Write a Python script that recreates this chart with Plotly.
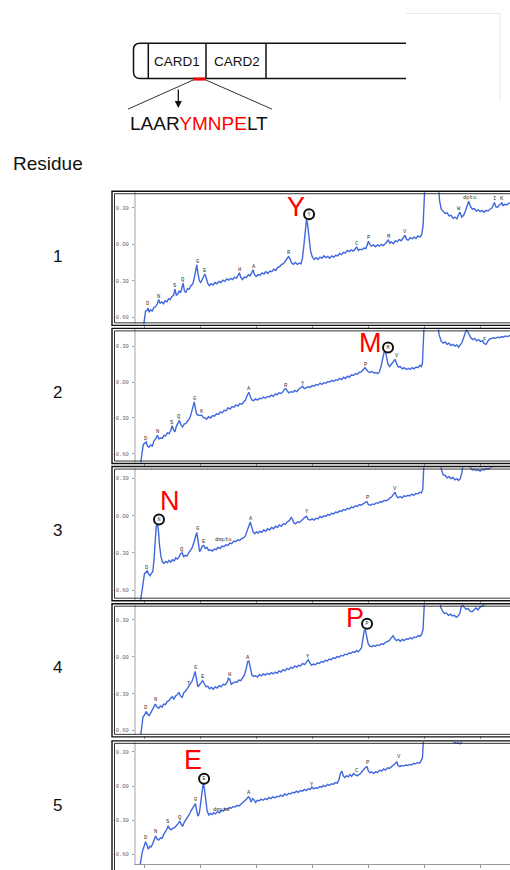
import plotly.graph_objects as go

W, H = 510, 870          # reference canvas (pixel coordinates used for placement)
FIG_H = 877              # page height; the capture compresses it to 870

# ------------------------------------------------------------------ data
residue_numbers = ["1", "2", "3", "4", "5"]
called_residues = ["Y", "M", "N", "P", "E"]
domain_names = ["CARD1", "CARD2"]
peptide_left, peptide_red, peptide_right = "LAAR", "YMNPE", "LT"
x_tick_vals = [4, 6, 8, 10, 12, 14, 16]
y_tick_vals = [-0.6, -0.3, 0.0, 0.3]
y_tick_text = ["-0.60", "-0.30", "0.00", "0.30"]

# chromatograms: (retention time [min], absorbance)
run1 = [(3.88,-0.80),(3.96,-0.63),(4.02,-0.55),(4.07,-0.545),(4.11,-0.525),(4.15,-0.56),(4.20,-0.54),(4.26,-0.55),(4.32,-0.52),(4.38,-0.515),(4.44,-0.49),(4.49,-0.455),(4.54,-0.485),(4.60,-0.475),(4.66,-0.49),(4.72,-0.465),(4.78,-0.475),(4.84,-0.45),(4.90,-0.455),(4.96,-0.43),(5.02,-0.42),(5.07,-0.37),(5.12,-0.42),(5.17,-0.41),(5.22,-0.385),(5.27,-0.40),(5.32,-0.35),(5.36,-0.32),(5.41,-0.385),(5.46,-0.395),(5.52,-0.365),(5.58,-0.37),(5.64,-0.34),(5.70,-0.33),(5.75,-0.29),(5.80,-0.23),(5.85,-0.17),(5.89,-0.24),(5.94,-0.30),(5.99,-0.315),(6.04,-0.29),(6.09,-0.26),(6.14,-0.245),(6.19,-0.28),(6.24,-0.32),(6.30,-0.34),(6.36,-0.325),(6.43,-0.335),(6.50,-0.315),(6.57,-0.325),(6.64,-0.305),(6.71,-0.315),(6.78,-0.295),(6.85,-0.305),(6.92,-0.285),(6.99,-0.295),(7.06,-0.28),(7.13,-0.29),(7.20,-0.27),(7.27,-0.28),(7.32,-0.26),(7.37,-0.235),(7.42,-0.27),(7.48,-0.29),(7.55,-0.27),(7.62,-0.275),(7.69,-0.25),(7.75,-0.26),(7.81,-0.235),(7.86,-0.21),(7.91,-0.25),(7.97,-0.265),(8.04,-0.25),(8.11,-0.255),(8.18,-0.235),(8.25,-0.245),(8.32,-0.225),(8.39,-0.24),(8.46,-0.22),(8.53,-0.225),(8.60,-0.205),(8.67,-0.215),(8.74,-0.19),(8.81,-0.185),(8.88,-0.165),(8.95,-0.16),(9.02,-0.135),(9.08,-0.115),(9.13,-0.10),(9.18,-0.12),(9.24,-0.155),(9.30,-0.165),(9.37,-0.15),(9.44,-0.165),(9.51,-0.155),(9.57,-0.16),(9.62,-0.12),(9.67,-0.02),(9.72,0.12),(9.77,0.21),(9.81,0.16),(9.86,0.04),(9.91,-0.05),(9.97,-0.10),(10.04,-0.125),(10.11,-0.11),(10.18,-0.125),(10.25,-0.105),(10.32,-0.115),(10.39,-0.095),(10.46,-0.11),(10.53,-0.10),(10.60,-0.115),(10.67,-0.095),(10.74,-0.105),(10.81,-0.09),(10.88,-0.095),(10.95,-0.075),(11.02,-0.085),(11.09,-0.065),(11.16,-0.07),(11.23,-0.05),(11.30,-0.06),(11.37,-0.045),(11.44,-0.055),(11.50,-0.04),(11.56,-0.02),(11.62,-0.05),(11.68,-0.04),(11.75,-0.045),(11.82,-0.03),(11.89,-0.035),(11.94,-0.005),(11.98,0.025),(12.03,0.0),(12.09,-0.015),(12.16,-0.005),(12.23,-0.02),(12.30,-0.005),(12.37,-0.015),(12.44,0.0),(12.51,-0.01),(12.58,0.005),(12.64,0.02),(12.69,0.035),(12.74,0.01),(12.80,0.02),(12.87,0.005),(12.94,0.03),(13.01,0.02),(13.08,0.04),(13.15,0.03),(13.22,0.05),(13.29,0.075),(13.34,0.04),(13.40,0.035),(13.47,0.055),(13.54,0.045),(13.61,0.06),(13.68,0.05),(13.75,0.07),(13.82,0.06),(13.88,0.08),(13.93,0.15),(13.97,0.35),(14.02,0.60),(14.45,0.60),(14.52,0.36),(14.58,0.29),(14.65,0.27),(14.72,0.255),(14.79,0.26),(14.86,0.235),(14.93,0.24),(15.00,0.215),(15.07,0.225),(15.14,0.21),(15.20,0.245),(15.25,0.265),(15.31,0.225),(15.38,0.24),(15.45,0.28),(15.51,0.33),(15.56,0.355),(15.62,0.315),(15.69,0.29),(15.76,0.295),(15.83,0.275),(15.90,0.285),(15.97,0.27),(16.04,0.28),(16.11,0.265),(16.18,0.28),(16.25,0.275),(16.32,0.29),(16.39,0.30),(16.44,0.325),(16.48,0.345),(16.53,0.31),(16.59,0.305),(16.65,0.325),(16.70,0.33),(16.74,0.345),(16.79,0.32),(16.85,0.33),(16.92,0.325),(16.99,0.34),(17.05,0.34)]

run2 = [(3.80,-0.75),(3.88,-0.60),(3.94,-0.52),(4.00,-0.51),(4.04,-0.50),(4.09,-0.535),(4.14,-0.545),(4.20,-0.525),(4.26,-0.535),(4.32,-0.49),(4.38,-0.475),(4.44,-0.445),(4.50,-0.475),(4.56,-0.465),(4.62,-0.47),(4.68,-0.445),(4.74,-0.45),(4.80,-0.425),(4.86,-0.43),(4.92,-0.405),(4.97,-0.365),(5.02,-0.40),(5.07,-0.415),(5.12,-0.37),(5.17,-0.35),(5.23,-0.32),(5.28,-0.355),(5.34,-0.375),(5.40,-0.35),(5.46,-0.345),(5.52,-0.325),(5.58,-0.31),(5.63,-0.28),(5.68,-0.235),(5.73,-0.18),(5.76,-0.165),(5.80,-0.22),(5.85,-0.27),(5.90,-0.275),(5.96,-0.28),(6.02,-0.275),(6.08,-0.295),(6.14,-0.30),(6.20,-0.31),(6.27,-0.29),(6.34,-0.30),(6.41,-0.28),(6.48,-0.285),(6.55,-0.265),(6.62,-0.27),(6.69,-0.25),(6.76,-0.255),(6.83,-0.235),(6.90,-0.24),(6.97,-0.215),(7.04,-0.225),(7.11,-0.205),(7.18,-0.21),(7.25,-0.19),(7.32,-0.20),(7.39,-0.18),(7.46,-0.185),(7.53,-0.165),(7.59,-0.15),(7.65,-0.11),(7.71,-0.085),(7.76,-0.12),(7.82,-0.15),(7.88,-0.155),(7.95,-0.14),(8.02,-0.15),(8.09,-0.135),(8.16,-0.14),(8.23,-0.125),(8.30,-0.135),(8.37,-0.12),(8.44,-0.125),(8.51,-0.11),(8.58,-0.12),(8.65,-0.10),(8.72,-0.105),(8.79,-0.09),(8.86,-0.095),(8.93,-0.08),(8.98,-0.06),(9.03,-0.055),(9.08,-0.075),(9.14,-0.09),(9.21,-0.08),(9.28,-0.085),(9.35,-0.07),(9.42,-0.08),(9.49,-0.06),(9.56,-0.05),(9.63,-0.035),(9.69,-0.055),(9.76,-0.05),(9.83,-0.04),(9.90,-0.045),(9.97,-0.03),(10.04,-0.035),(10.11,-0.02),(10.18,-0.025),(10.25,-0.01),(10.32,-0.02),(10.39,-0.005),(10.46,-0.01),(10.53,0.005),(10.60,0.0),(10.67,0.015),(10.74,0.005),(10.81,0.02),(10.88,0.015),(10.95,0.03),(11.02,0.02),(11.09,0.04),(11.16,0.03),(11.23,0.05),(11.30,0.04),(11.37,0.06),(11.44,0.055),(11.51,0.07),(11.58,0.065),(11.65,0.08),(11.72,0.085),(11.79,0.10),(11.86,0.12),(11.92,0.10),(11.98,0.085),(12.04,0.08),(12.10,0.09),(12.17,0.075),(12.24,0.08),(12.31,0.07),(12.37,0.085),(12.43,0.13),(12.49,0.20),(12.54,0.25),(12.58,0.26),(12.63,0.20),(12.68,0.15),(12.74,0.13),(12.80,0.15),(12.86,0.175),(12.93,0.19),(12.99,0.15),(13.05,0.125),(13.12,0.13),(13.19,0.11),(13.26,0.12),(13.33,0.105),(13.40,0.115),(13.47,0.105),(13.54,0.12),(13.61,0.11),(13.68,0.125),(13.75,0.12),(13.82,0.14),(13.87,0.13),(13.91,0.16),(13.95,0.35),(13.99,0.60),(14.42,0.60),(14.50,0.40),(14.58,0.34),(14.65,0.325),(14.72,0.335),(14.79,0.315),(14.86,0.325),(14.93,0.305),(15.00,0.315),(15.07,0.30),(15.14,0.31),(15.20,0.29),(15.26,0.31),(15.32,0.33),(15.38,0.37),(15.43,0.41),(15.48,0.44),(15.53,0.42),(15.58,0.39),(15.64,0.37),(15.70,0.355),(15.77,0.365),(15.84,0.345),(15.91,0.355),(15.98,0.34),(16.05,0.345),(16.12,0.32),(16.18,0.315),(16.24,0.34),(16.31,0.36),(16.38,0.365),(16.45,0.37),(16.52,0.365),(16.59,0.375),(16.66,0.37),(16.73,0.38),(16.80,0.375),(16.87,0.385),(16.94,0.38),(17.05,0.39)]

run3 = [(3.80,-0.75),(3.87,-0.62),(3.93,-0.55),(3.98,-0.47),(4.03,-0.455),(4.08,-0.445),(4.13,-0.47),(4.18,-0.485),(4.23,-0.465),(4.28,-0.45),(4.32,-0.36),(4.36,-0.20),(4.40,-0.09),(4.44,-0.06),(4.48,-0.12),(4.52,-0.24),(4.57,-0.33),(4.62,-0.37),(4.68,-0.385),(4.74,-0.37),(4.80,-0.38),(4.86,-0.36),(4.92,-0.375),(4.98,-0.355),(5.04,-0.365),(5.10,-0.34),(5.16,-0.35),(5.22,-0.33),(5.28,-0.305),(5.33,-0.30),(5.38,-0.33),(5.44,-0.32),(5.50,-0.325),(5.56,-0.30),(5.62,-0.28),(5.68,-0.26),(5.74,-0.22),(5.80,-0.17),(5.85,-0.135),(5.90,-0.21),(5.95,-0.29),(6.00,-0.27),(6.05,-0.245),(6.10,-0.24),(6.15,-0.265),(6.21,-0.255),(6.27,-0.28),(6.33,-0.275),(6.40,-0.285),(6.47,-0.27),(6.54,-0.275),(6.61,-0.255),(6.68,-0.265),(6.75,-0.245),(6.82,-0.25),(6.89,-0.235),(6.96,-0.24),(7.03,-0.22),(7.10,-0.225),(7.17,-0.205),(7.24,-0.21),(7.31,-0.195),(7.38,-0.20),(7.45,-0.185),(7.52,-0.18),(7.58,-0.165),(7.64,-0.13),(7.70,-0.08),(7.76,-0.05),(7.81,-0.09),(7.86,-0.13),(7.92,-0.145),(7.98,-0.13),(8.04,-0.14),(8.10,-0.125),(8.17,-0.135),(8.24,-0.115),(8.31,-0.125),(8.38,-0.105),(8.45,-0.115),(8.52,-0.095),(8.59,-0.105),(8.66,-0.085),(8.73,-0.095),(8.80,-0.075),(8.87,-0.085),(8.94,-0.065),(9.01,-0.07),(9.08,-0.05),(9.15,-0.04),(9.22,-0.015),(9.27,-0.03),(9.32,-0.06),(9.38,-0.065),(9.45,-0.05),(9.52,-0.055),(9.58,-0.04),(9.64,-0.03),(9.70,-0.015),(9.77,-0.005),(9.83,-0.03),(9.90,-0.035),(9.97,-0.025),(10.04,-0.035),(10.11,-0.02),(10.18,-0.025),(10.25,-0.005),(10.32,-0.015),(10.39,0.0),(10.46,-0.005),(10.53,0.01),(10.60,0.005),(10.67,0.02),(10.74,0.015),(10.81,0.03),(10.88,0.025),(10.95,0.04),(11.02,0.035),(11.09,0.05),(11.16,0.045),(11.23,0.06),(11.30,0.055),(11.37,0.07),(11.44,0.065),(11.51,0.08),(11.58,0.075),(11.65,0.09),(11.72,0.085),(11.79,0.095),(11.86,0.10),(11.92,0.115),(11.98,0.09),(12.05,0.085),(12.12,0.095),(12.19,0.09),(12.26,0.105),(12.33,0.10),(12.40,0.115),(12.47,0.11),(12.54,0.125),(12.61,0.12),(12.68,0.13),(12.75,0.14),(12.82,0.155),(12.88,0.175),(12.93,0.19),(12.98,0.16),(13.04,0.145),(13.11,0.155),(13.18,0.145),(13.25,0.16),(13.32,0.155),(13.39,0.165),(13.46,0.16),(13.53,0.175),(13.60,0.165),(13.67,0.18),(13.74,0.175),(13.81,0.19),(13.87,0.185),(13.92,0.21),(13.96,0.33),(14.00,0.60),(14.50,0.60),(14.58,0.38),(14.65,0.33),(14.72,0.325),(14.79,0.305),(14.86,0.315),(14.93,0.30),(15.00,0.31),(15.07,0.29),(15.14,0.30),(15.20,0.285),(15.26,0.30),(15.32,0.35),(15.38,0.45),(15.55,0.45),(15.62,0.39),(15.69,0.37),(15.76,0.375),(15.83,0.365),(15.90,0.37),(15.97,0.36),(16.04,0.375),(16.11,0.37),(16.18,0.38),(16.25,0.375),(16.32,0.385),(16.40,0.395),(16.50,0.42)]

run4 = [(3.80,-0.72),(3.87,-0.58),(3.93,-0.49),(3.99,-0.47),(4.05,-0.445),(4.10,-0.47),(4.15,-0.48),(4.21,-0.455),(4.27,-0.43),(4.32,-0.40),(4.37,-0.385),(4.43,-0.41),(4.49,-0.42),(4.55,-0.40),(4.61,-0.41),(4.67,-0.385),(4.73,-0.39),(4.79,-0.365),(4.85,-0.36),(4.91,-0.34),(4.97,-0.325),(5.03,-0.345),(5.09,-0.32),(5.15,-0.31),(5.21,-0.29),(5.27,-0.32),(5.33,-0.33),(5.39,-0.29),(5.45,-0.28),(5.51,-0.26),(5.56,-0.245),(5.62,-0.225),(5.68,-0.20),(5.74,-0.16),(5.79,-0.12),(5.84,-0.18),(5.89,-0.245),(5.94,-0.23),(6.00,-0.215),(6.06,-0.195),(6.12,-0.22),(6.18,-0.245),(6.24,-0.24),(6.30,-0.26),(6.37,-0.25),(6.44,-0.265),(6.51,-0.245),(6.58,-0.255),(6.65,-0.235),(6.72,-0.245),(6.79,-0.225),(6.86,-0.23),(6.93,-0.21),(6.98,-0.175),(7.03,-0.185),(7.08,-0.225),(7.14,-0.215),(7.21,-0.205),(7.28,-0.21),(7.35,-0.19),(7.42,-0.195),(7.49,-0.175),(7.55,-0.15),(7.61,-0.10),(7.67,-0.04),(7.71,-0.035),(7.76,-0.10),(7.82,-0.15),(7.88,-0.16),(7.95,-0.155),(8.02,-0.165),(8.09,-0.145),(8.16,-0.155),(8.23,-0.14),(8.30,-0.15),(8.37,-0.135),(8.44,-0.145),(8.51,-0.13),(8.58,-0.14),(8.65,-0.125),(8.72,-0.135),(8.79,-0.115),(8.86,-0.125),(8.93,-0.105),(9.00,-0.115),(9.07,-0.095),(9.14,-0.105),(9.21,-0.085),(9.28,-0.095),(9.35,-0.075),(9.42,-0.085),(9.49,-0.07),(9.56,-0.075),(9.63,-0.055),(9.70,-0.065),(9.77,-0.04),(9.83,-0.025),(9.89,-0.05),(9.95,-0.07),(10.02,-0.06),(10.09,-0.065),(10.16,-0.05),(10.23,-0.055),(10.30,-0.04),(10.37,-0.045),(10.44,-0.03),(10.51,-0.035),(10.58,-0.02),(10.65,-0.025),(10.72,-0.01),(10.79,-0.015),(10.86,0.0),(10.93,-0.005),(11.00,0.01),(11.07,0.005),(11.14,0.02),(11.21,0.015),(11.28,0.03),(11.35,0.025),(11.42,0.04),(11.49,0.035),(11.56,0.05),(11.62,0.04),(11.68,0.055),(11.73,0.07),(11.78,0.14),(11.83,0.21),(11.87,0.22),(11.92,0.15),(11.97,0.105),(12.03,0.085),(12.09,0.08),(12.16,0.09),(12.23,0.085),(12.30,0.095),(12.37,0.09),(12.44,0.105),(12.51,0.10),(12.58,0.115),(12.65,0.12),(12.72,0.13),(12.79,0.15),(12.86,0.17),(12.92,0.145),(12.98,0.13),(13.05,0.14),(13.12,0.125),(13.19,0.14),(13.26,0.13),(13.33,0.145),(13.40,0.14),(13.47,0.155),(13.54,0.145),(13.61,0.16),(13.68,0.155),(13.75,0.17),(13.82,0.165),(13.88,0.18),(13.93,0.22),(13.97,0.40),(14.01,0.60),(14.48,0.60),(14.56,0.40),(14.63,0.37),(14.70,0.35),(14.77,0.355),(14.84,0.335),(14.91,0.345),(14.98,0.33),(15.05,0.335),(15.12,0.32),(15.18,0.33),(15.24,0.35),(15.29,0.40),(15.34,0.42),(15.40,0.40),(15.47,0.385),(15.54,0.39),(15.61,0.37),(15.68,0.365),(15.75,0.38),(15.82,0.395),(15.89,0.38),(15.96,0.40),(16.03,0.41),(16.10,0.42),(16.20,0.43),(16.35,0.44)]

run5 = [(3.78,-0.76),(3.85,-0.64),(3.91,-0.57),(3.97,-0.53),(4.02,-0.49),(4.07,-0.52),(4.12,-0.555),(4.17,-0.53),(4.22,-0.535),(4.27,-0.51),(4.33,-0.48),(4.38,-0.44),(4.43,-0.465),(4.49,-0.475),(4.55,-0.455),(4.61,-0.46),(4.67,-0.425),(4.73,-0.405),(4.78,-0.38),(4.83,-0.35),(4.88,-0.375),(4.94,-0.385),(5.00,-0.37),(5.06,-0.365),(5.12,-0.35),(5.18,-0.33),(5.24,-0.31),(5.29,-0.335),(5.34,-0.355),(5.40,-0.32),(5.46,-0.30),(5.52,-0.28),(5.58,-0.25),(5.64,-0.22),(5.70,-0.195),(5.75,-0.17),(5.80,-0.155),(5.85,-0.22),(5.89,-0.265),(5.94,-0.24),(5.99,-0.14),(6.04,-0.02),(6.08,0.025),(6.12,-0.02),(6.17,-0.13),(6.22,-0.22),(6.28,-0.255),(6.34,-0.24),(6.40,-0.25),(6.46,-0.235),(6.52,-0.245),(6.59,-0.225),(6.66,-0.235),(6.73,-0.215),(6.80,-0.22),(6.87,-0.20),(6.94,-0.205),(7.01,-0.19),(7.08,-0.195),(7.15,-0.18),(7.22,-0.185),(7.29,-0.17),(7.36,-0.175),(7.43,-0.16),(7.50,-0.15),(7.57,-0.13),(7.63,-0.115),(7.69,-0.095),(7.74,-0.105),(7.79,-0.14),(7.84,-0.11),(7.89,-0.12),(7.95,-0.145),(8.01,-0.125),(8.08,-0.13),(8.15,-0.115),(8.22,-0.125),(8.29,-0.11),(8.36,-0.12),(8.43,-0.10),(8.50,-0.11),(8.57,-0.095),(8.64,-0.105),(8.71,-0.09),(8.78,-0.095),(8.85,-0.08),(8.92,-0.09),(8.99,-0.07),(9.06,-0.08),(9.13,-0.065),(9.20,-0.07),(9.27,-0.055),(9.34,-0.06),(9.41,-0.045),(9.48,-0.055),(9.55,-0.04),(9.62,-0.045),(9.69,-0.03),(9.76,-0.04),(9.83,-0.025),(9.90,-0.03),(9.96,-0.01),(10.03,-0.025),(10.10,-0.015),(10.17,-0.02),(10.24,-0.005),(10.31,-0.01),(10.38,0.005),(10.45,-0.005),(10.52,0.015),(10.59,0.005),(10.66,0.02),(10.73,0.015),(10.80,0.03),(10.87,0.025),(10.93,0.06),(10.98,0.11),(11.03,0.13),(11.08,0.09),(11.14,0.075),(11.20,0.09),(11.26,0.08),(11.32,0.10),(11.38,0.085),(11.45,0.11),(11.52,0.095),(11.58,0.09),(11.64,0.10),(11.70,0.11),(11.76,0.13),(11.82,0.15),(11.88,0.165),(11.93,0.17),(11.98,0.13),(12.04,0.115),(12.10,0.125),(12.17,0.11),(12.24,0.125),(12.31,0.12),(12.38,0.14),(12.45,0.13),(12.52,0.15),(12.59,0.14),(12.66,0.16),(12.73,0.155),(12.80,0.17),(12.87,0.18),(12.93,0.195),(12.99,0.215),(13.04,0.18),(13.10,0.17),(13.17,0.18),(13.24,0.175),(13.31,0.185),(13.38,0.18),(13.45,0.19),(13.52,0.185),(13.59,0.20),(13.66,0.195),(13.73,0.205),(13.80,0.20),(13.86,0.22),(13.91,0.25),(13.95,0.40),(13.99,0.60),(14.70,0.60),(14.85,0.45),(14.95,0.40),(15.05,0.385),(15.12,0.375),(15.18,0.38),(15.24,0.37),(15.30,0.385),(15.36,0.42),(15.45,0.50)]

# peak identifications: (label, time, absorbance at label)
peaks1 = [("D",4.12,-0.49),("N",4.48,-0.43),("S",5.07,-0.34),("Q",5.37,-0.29),("G",5.86,-0.14),("E",6.16,-0.215),("H",7.37,-0.205),("A",7.88,-0.18),("R",9.13,-0.07),("C",11.56,0.01),("P",11.98,0.055),("M",12.69,0.065),("V",13.29,0.105),("W",15.23,0.295),("dptu",15.60,0.385),("I",16.47,0.375),("K",16.74,0.375)]
peaks2 = [("D",4.04,-0.475),("N",4.43,-0.415),("S",4.98,-0.335),("Q",5.22,-0.29),("G",5.77,-0.135),("K",6.05,-0.245),("A",7.72,-0.055),("R",9.03,-0.03),("Y",9.64,-0.01),("P",11.86,0.15),("V",12.99,0.225),("F",16.14,0.355)]
peaks3 = [("D",4.08,-0.415),("Q",5.33,-0.27),("G",5.86,-0.105),("E",6.12,-0.205),("dmptu",6.80,-0.19),("A",7.77,-0.02),("Y",9.77,0.03),("P",11.94,0.15),("V",12.93,0.22)]
peaks4 = [("D",4.05,-0.41),("N",4.38,-0.35),("T",5.56,-0.215),("G",5.80,-0.09),("E",6.07,-0.16),("H",7.02,-0.145),("A",7.69,-0.005),("Y",9.83,0.005)]
peaks5 = [("D",4.04,-0.455),("N",4.39,-0.40),("S",4.83,-0.315),("Q",5.26,-0.28),("G",5.80,-0.115),("dmptu",6.74,-0.21),("A",7.72,-0.06),("Y",9.97,0.015),("C",11.56,0.14),("P",11.94,0.205),("V",13.06,0.255)]

# circled call of each cycle (time, absorbance) and big-letter position
call_circle = [(9.86, 0.248), (12.68, 0.289), (4.50, -0.031), (11.93, 0.267), (6.11, 0.063)]
call_letter = [(9.39, 0.306), (12.04, 0.323), (4.89, 0.122), (11.50, 0.315), (5.71, 0.230)]

runs = [run1, run2, run3, run4, run5]
peaks = [peaks1, peaks2, peaks3, peaks4, peaks5]

# ------------------------------------------------------------------ layout helpers
def X(px):
    return px / W

def Y(py):
    return 1 - py / H

plot_px = [(192, 324), (329, 462), (467, 599), (604, 734), (741, 863)]
frame_px = [(191, 325), (328, 463), (466, 600), (603, 736), (740, 900)]
y_ranges = [(-0.660, 0.430), (-0.672, 0.440), (-0.678, 0.389), (-0.635, 0.422), (-0.685, 0.388)]
label_py = [256, 392, 530, 667, 805]
x_range = [3.679, 17.036]
x_dom = [136 / W, 1.0]

TRACE = "#4068dd"
MONO = "Liberation Mono"
SANS = "Liberation Sans"

fig = go.Figure()
layout = dict(
    width=W, height=FIG_H, margin=dict(l=0, r=0, t=0, b=0),
    paper_bgcolor="white", plot_bgcolor="white", showlegend=False,
)
annotations = []
shapes = []

for i in range(5):
    n = i + 1
    xs = "x" if n == 1 else f"x{n}"
    ys = "y" if n == 1 else f"y{n}"
    t = [p[0] for p in runs[i]]
    v = [p[1] for p in runs[i]]
    fig.add_trace(go.Scatter(x=t, y=v, mode="lines", xaxis=xs, yaxis=ys,
                             line=dict(color=TRACE, width=1.4), hoverinfo="skip"))
    ct, cv = call_circle[i]
    fig.add_trace(go.Scatter(x=[ct], y=[cv], mode="markers+text", xaxis=xs, yaxis=ys,
                             text=[called_residues[i]], textposition="middle center",
                             textfont=dict(family=MONO, size=5, color="#333"),
                             marker=dict(symbol="circle", size=10, color="white",
                                         line=dict(color="#111", width=2)),
                             hoverinfo="skip", cliponaxis=False))
    top, bot = plot_px[i]
    bottom_axis = (n == 5)
    layout[f"xaxis{'' if n == 1 else n}"] = dict(
        domain=x_dom, range=x_range, anchor=ys, showgrid=False, zeroline=False,
        tickvals=x_tick_vals, tickformat=".1f", ticks="outside", ticklen=3,
        tickcolor="#999", showticklabels=bottom_axis,
        tickfont=dict(family=MONO, size=6, color="#666"),
        showline=bottom_axis, linecolor="#999", linewidth=1,
    )
    layout[f"yaxis{'' if n == 1 else n}"] = dict(
        domain=[Y(bot), Y(top)], range=list(y_ranges[i]), anchor=xs,
        showgrid=False, zeroline=False, tickvals=y_tick_vals, ticktext=y_tick_text,
        ticks="outside", ticklen=2, tickcolor="#999", ticklabelstandoff=2,
        tickfont=dict(family=MONO, size=5.5, color="#666"),
        showline=True, linecolor="#d0d0d0", linewidth=2,
    )
    for lab, lt, lv in peaks[i]:
        annotations.append(dict(x=lt, y=lv, xref=xs, yref=ys, text=lab, showarrow=False,
                                font=dict(family=MONO, size=5.5, color="#333"),
                                xanchor="center", yanchor="middle"))
    rt, rv = call_letter[i]
    annotations.append(dict(x=rt, y=rv, xref=xs, yref=ys, text=called_residues[i],
                            showarrow=False, font=dict(family=SANS, size=27, color="#ff0000"),
                            xanchor="center", yanchor="middle"))
    ft, fb = frame_px[i]
    shapes.append(dict(type="rect", xref="paper", yref="paper", x0=X(112), x1=X(540),
                       y0=Y(fb), y1=Y(ft), line=dict(color="#111", width=1.4), layer="above"))
    shapes.append(dict(type="rect", xref="paper", yref="paper", x0=X(114.5), x1=X(540),
                       y0=Y(fb - 2.5), y1=Y(ft + 2.5), line=dict(color="#333", width=1), layer="above"))
    annotations.append(dict(x=X(57), y=Y(label_py[i]), xref="paper", yref="paper",
                            text=residue_numbers[i], showarrow=False,
                            font=dict(family=SANS, size=17, color="#111"),
                            xanchor="center", yanchor="middle"))

annotations.append(dict(x=X(11), y=Y(163), xref="paper", yref="paper", text="Residue",
                        showarrow=False, font=dict(family=SANS, size=19, color="#111"),
                        xanchor="left", yanchor="middle"))

# ---- protein schematic
bx0, bx1, by0, by1 = 133.5, 406, 43.3, 78.3
r = 6.5
p = (f"M {X(bx1)},{Y(by0)} L {X(bx0 + r)},{Y(by0)} Q {X(bx0)},{Y(by0)} {X(bx0)},{Y(by0 + r)} "
     f"L {X(bx0)},{Y(by1 - r)} Q {X(bx0)},{Y(by1)} {X(bx0 + r)},{Y(by1)} L {X(bx1)},{Y(by1)}")
shapes.append(dict(type="path", xref="paper", yref="paper", path=p,
                   line=dict(color="#111", width=1.5)))
for vx in (148.3, 206, 266):
    shapes.append(dict(type="line", xref="paper", yref="paper", x0=X(vx), x1=X(vx),
                       y0=Y(by0), y1=Y(by1), line=dict(color="#111", width=1.5)))
for name, cx in zip(domain_names, (177, 236.5)):
    annotations.append(dict(x=X(cx), y=Y(61.5), xref="paper", yref="paper", text=name,
                            showarrow=False, font=dict(family=SANS, size=13.5, color="#111"),
                            xanchor="center", yanchor="middle"))
shapes.append(dict(type="line", xref="paper", yref="paper", x0=X(193), x1=X(206),
                   y0=Y(79), y1=Y(79), line=dict(color="#ff0000", width=3)))
shapes.append(dict(type="line", xref="paper", yref="paper", x0=X(193), x1=X(128),
                   y0=Y(80), y1=Y(109), line=dict(color="#333", width=1)))
shapes.append(dict(type="line", xref="paper", yref="paper", x0=X(206), x1=X(272),
                   y0=Y(80), y1=Y(109), line=dict(color="#333", width=1)))
annotations.append(dict(x=X(178.3), y=Y(108), xref="paper", yref="paper", text="",
                        showarrow=True, ax=0, ay=-20, arrowhead=2, arrowsize=1.1,
                        arrowwidth=1.3, arrowcolor="#111"))
annotations.append(dict(x=X(199), y=Y(123), xref="paper", yref="paper",
                        text=(f"{peptide_left}<span style='color:#ff0000'>{peptide_red}</span>"
                              f"{peptide_right}"),
                        showarrow=False, font=dict(family=SANS, size=19, color="#111"),
                        xanchor="center", yanchor="middle"))
shapes.append(dict(type="line", xref="paper", yref="paper", x0=X(406), x1=X(500),
                   y0=Y(13.3), y1=Y(13.3), line=dict(color="#e6e6e6", width=1)))
shapes.append(dict(type="line", xref="paper", yref="paper", x0=X(500), x1=X(500),
                   y0=Y(13.3), y1=Y(100), line=dict(color="#e6e6e6", width=1)))

layout["annotations"] = annotations
layout["shapes"] = shapes
fig.update_layout(**layout)
fig.write_html("out.html", config={"displayModeBar": False},
               post_script="document.body.style.margin='0';document.body.style.overflow='hidden';")
